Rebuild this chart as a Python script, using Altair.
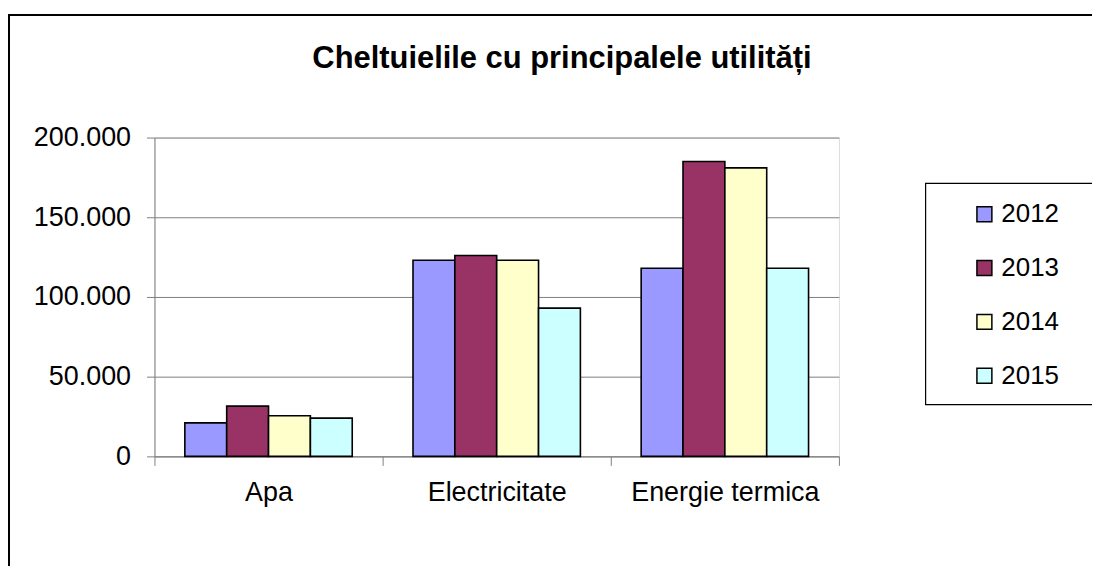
import altair as alt
import pandas as pd

categories = ["Apa", "Electricitate", "Energie termica"]
years = ["2012", "2013", "2014", "2015"]
v2012 = [21000, 123000, 118000]
v2013 = [31500, 126000, 185000]
v2014 = [25500, 123000, 181000]
v2015 = [24000, 93000, 118000]
colors = ["#9999FF", "#993366", "#FFFFCC", "#CCFFFF"]
y_ticks = [0, 50000, 100000, 150000, 200000]
title_text = "Cheltuielile cu principalele utilități"

rows = []
for yr, vals in zip(years, [v2012, v2013, v2014, v2015]):
    for c, v in zip(categories, vals):
        rows.append({"cat": c, "year": yr, "value": v})
df = pd.DataFrame(rows)

W, H = 687, 320
FONT = "Liberation Sans"
GRAY = "#808080"

bars = alt.Chart(df).mark_bar(stroke="black", strokeWidth=1.6).encode(
    x=alt.X(
        "cat:N", sort=categories,
        scale=alt.Scale(paddingInner=0, paddingOuter=0),
        axis=alt.Axis(title=None, labelAngle=0, tickBand="extent", grid=False,
                      domainColor=GRAY, tickColor=GRAY, tickSize=9,
                      labelFontSize=27, labelPadding=14, labelColor="black",
                      labelFont=FONT, labelLimit=500),
    ),
    xOffset=alt.XOffset("year:N", sort=years,
                        scale=alt.Scale(paddingInner=0, paddingOuter=0.726)),
    y=alt.Y(
        "value:Q",
        scale=alt.Scale(domain=[0, 200000], nice=False),
        axis=alt.Axis(title=None, values=y_ticks, grid=True, gridColor=GRAY,
                      domainColor=GRAY, tickColor=GRAY, tickSize=8,
                      labelFontSize=27, labelPadding=16, labelColor="black",
                      labelFont=FONT,
                      labelExpr="replace(format(datum.value, ','), /,/g, '.')"),
    ),
    color=alt.Color(
        "year:N", sort=years,
        scale=alt.Scale(domain=years, range=colors),
        legend=alt.Legend(title=None, orient="none", legendX=820, legendY=64,
                          symbolType="square", symbolSize=225,
                          symbolStrokeColor="black", symbolStrokeWidth=1.5,
                          symbolOpacity=1, labelFontSize=26, labelFont=FONT,
                          labelColor="black", labelOffset=4, rowPadding=28,
                          padding=0),
    ),
)

dummy = pd.DataFrame({"t": [title_text]})

title = alt.Chart(dummy).mark_text(
    fontSize=31, fontWeight="bold", font=FONT, align="center",
    baseline="middle", color="black"
).encode(x=alt.value(409), y=alt.value(-79), text="t:N")

border = alt.Chart(dummy).mark_rect(
    filled=False, stroke="black", strokeWidth=2
).encode(x=alt.value(-146), x2=alt.value(960), y=alt.value(-123), y2=alt.value(470))

legend_box = alt.Chart(dummy).mark_rect(
    filled=False, stroke="black", strokeWidth=1.2
).encode(x=alt.value(774), x2=alt.value(942), y=alt.value(46), y2=alt.value(268))

chart = alt.layer(border, bars, legend_box, title).properties(
    width=W, height=H,
    autosize=alt.AutoSizeParams(type="none"),
    padding={"left": 147, "top": 129, "right": 254, "bottom": 109},
).configure_view(stroke=None).configure(font=FONT)

chart.save("out.html", embed_options={"renderer": "svg", "actions": False})
